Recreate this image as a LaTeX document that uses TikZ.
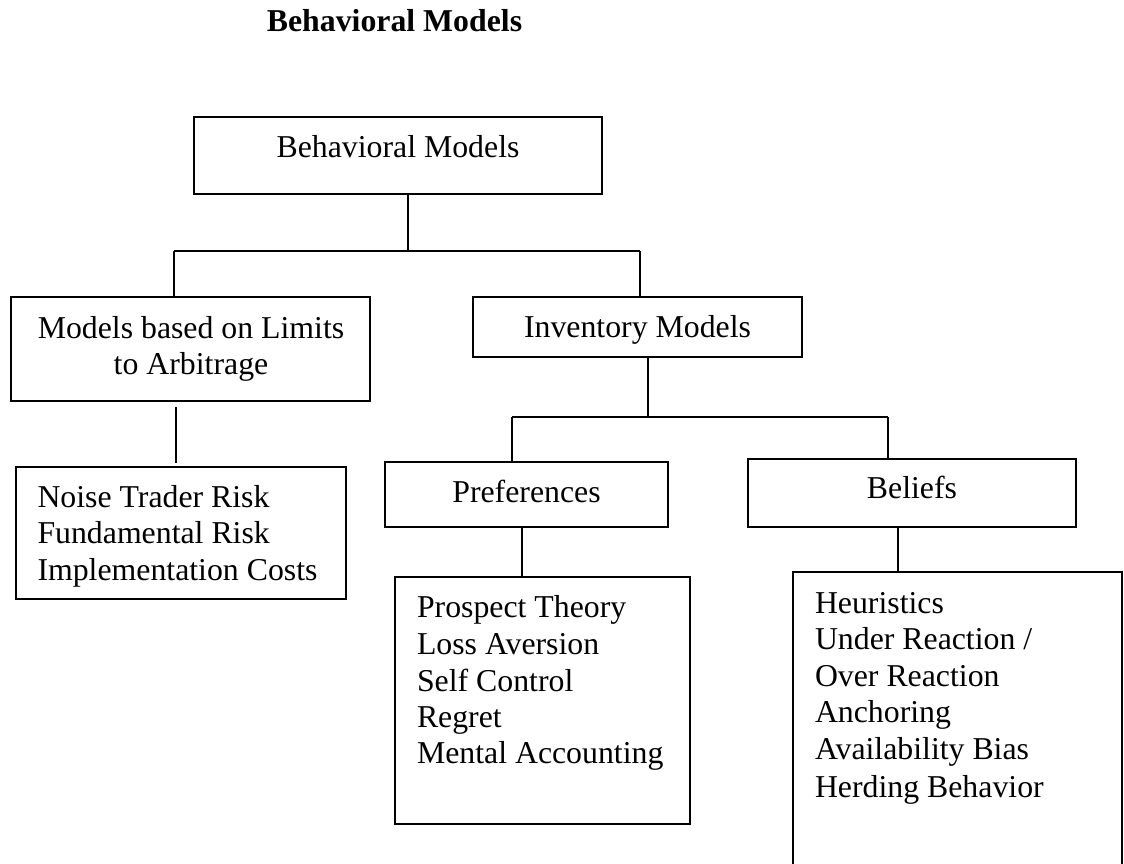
\documentclass[tikz,border=0pt]{standalone}
\usepackage{fontspec}
\setmainfont{Liberation Serif}
\begin{document}
\tikzset{
  box/.style={draw, line width=1.5pt, inner sep=0pt, outer sep=0pt, anchor=north west},
  lbl/.style={inner sep=0pt, outer sep=0pt, font=\fontsize{31.8pt}{36.6pt}\selectfont},
  ttl/.style={lbl, font=\fontsize{31.8pt}{36.6pt}\selectfont\bfseries},
  conn/.style={line width=1.5pt},
}
\begin{tikzpicture}[x=1pt,y=-1pt]
\fill[white] (0,0) rectangle (1124,863);
\useasboundingbox (0,0) rectangle (1124,863);

% title
\node[ttl, anchor=base] (title) at (394.5,31) {Behavioral Models};

% boxes
\node[box, minimum width=408pt, minimum height=77pt] (b1) at (194,117) {};
\node[box, minimum width=359pt, minimum height=104pt] (lim) at (11,297) {};
\node[box, minimum width=329pt, minimum height=60pt] (inv) at (473,297) {};
\node[box, minimum width=330pt, minimum height=132pt] (noise) at (16,467) {};
\node[box, minimum width=283pt, minimum height=65pt] (pref) at (385,462) {};
\node[box, minimum width=328pt, minimum height=68pt] (bel) at (748,459) {};
\node[box, minimum width=295pt, minimum height=247pt] (prefd) at (395,577) {};
\node[box, minimum width=329pt, minimum height=330pt] (beld) at (793,572) {};

% texts
\node[lbl, anchor=base] (t1) at (398,157) {Behavioral Models};
\node[lbl, anchor=base] (t2a) at (191,338) {Models based on Limits};
\node[lbl, anchor=base] (t2b) at (191,374) {to Arbitrage};
\node[lbl, anchor=base] (t3) at (637.5,337) {Inventory Models};
\node[lbl, anchor=base west] (n1) at (37.5,507) {Noise Trader Risk};
\node[lbl, anchor=base west] (n2) at (37.5,543) {Fundamental Risk};
\node[lbl, anchor=base west] (n3) at (37.5,580) {Implementation Costs};
\node[lbl, anchor=base] (t4) at (526.5,502) {Preferences};
\node[lbl, anchor=base] (t5) at (912,498) {Beliefs};
\node[lbl, anchor=base west] (p1) at (417,617) {Prospect Theory};
\node[lbl, anchor=base west] (p2) at (417,654) {Loss Aversion};
\node[lbl, anchor=base west] (p3) at (417,691) {Self Control};
\node[lbl, anchor=base west] (p4) at (417,727) {Regret};
\node[lbl, anchor=base west] (p5) at (417,763) {Mental Accounting};
\node[lbl, anchor=base west] (q1) at (815,613) {Heuristics};
\node[lbl, anchor=base west] (q2) at (815,649) {Under Reaction /};
\node[lbl, anchor=base west] (q3) at (815,686) {Over Reaction};
\node[lbl, anchor=base west] (q4) at (815,722) {Anchoring};
\node[lbl, anchor=base west] (q5) at (815,759) {Availability Bias};
\node[lbl, anchor=base west] (q6) at (815,797) {Herding Behavior};

% connectors
\coordinate (j0) at (408,251);
\coordinate (jL) at (174,251);
\coordinate (jR) at (640,251);
\draw[conn] (b1.south -| j0) -- (j0);
\draw[conn] (jL) -- (jR);
\draw[conn] (jL) -- (jL |- lim.north);
\draw[conn] (jR) -- (jR |- inv.north);
\coordinate (k) at (176,0);
\draw[conn, shorten <=6pt, shorten >=4pt] (lim.south -| k) -- (noise.north -| k);
\coordinate (j1) at (648,417);
\coordinate (jP) at (512,417);
\coordinate (jB) at (888,417);
\draw[conn] (inv.south -| j1) -- (j1);
\draw[conn] (jP) -- (jB);
\draw[conn] (jP) -- (jP |- pref.north);
\draw[conn] (jB) -- (jB |- bel.north);
\coordinate (kp) at (522,0);
\draw[conn] (pref.south -| kp) -- (prefd.north -| kp);
\coordinate (kb) at (898,0);
\draw[conn] (bel.south -| kb) -- (beld.north -| kb);
\end{tikzpicture}
\end{document}
